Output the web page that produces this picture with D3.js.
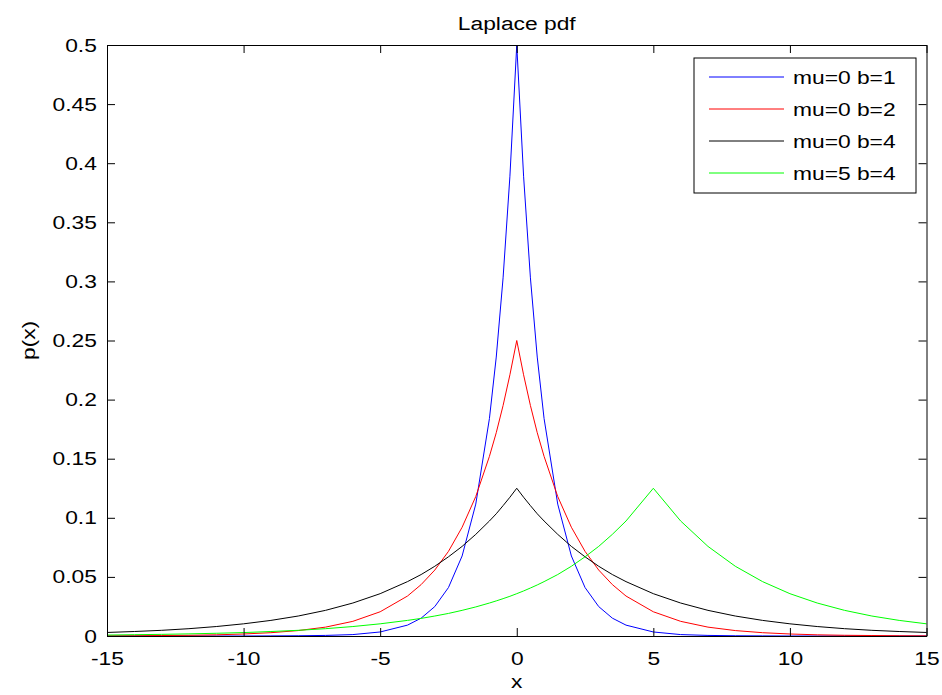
<!DOCTYPE html>
<html>
<head>
<meta charset="utf-8">
<script src="https://cdn.jsdelivr.net/npm/d3@7"></script>
<style>
  body { margin: 0; background: #fff; }
  text { font-family: "Liberation Sans", Arial, sans-serif; fill: #000; }
</style>
</head>
<body>
<div id="chart"></div>
<script>
var width = 942,
    height = 695;

// sample x positions (denser near the peaks)
const xs = [-15,-14,-13,-12,-11,-10,-9,-8,-7,-6,-5,-4,-3.5,-3,-2.5,-2,-1.5,-1,-0.75,-0.5,-0.25,
            0,0.25,0.5,0.75,1,1.5,2,2.5,3,3.5,4,5,6,7,8,9,10,11,12,13,14,15];

// mu=0 b=1
const blue = [0.0000,0.0000,0.0000,0.0000,0.0000,0.0000,0.0001,0.0002,0.0005,0.0012,0.0034,0.0092,0.0151,0.0249,0.041,0.0677,0.1116,0.184,0.236,0.303,0.389,
              0.5,0.389,0.303,0.236,0.184,0.1116,0.0677,0.041,0.0249,0.0151,0.0092,0.0034,0.0012,0.0005,0.0002,0.0001,0.0000,0.0000,0.0000,0.0000,0.0000,0.0000];
// mu=0 b=2
const red = [0.0001,0.0002,0.0004,0.0006,0.001,0.0017,0.0028,0.0046,0.0075,0.0124,0.0205,0.0338,0.0435,0.0558,0.0716,0.092,0.118,0.152,0.172,0.195,0.221,
             0.25,0.221,0.195,0.172,0.152,0.118,0.092,0.0716,0.0558,0.0435,0.0338,0.0205,0.0124,0.0075,0.0046,0.0028,0.0017,0.001,0.0006,0.0004,0.0002,0.0001];
// mu=0 b=4
const black = [0.003,0.0038,0.0048,0.0062,0.008,0.0103,0.0132,0.0169,0.0217,0.0279,0.0358,0.046,0.052,0.059,0.067,0.0758,0.086,0.0973,0.1034,0.1103,0.1174,
               0.125,0.1174,0.1103,0.1034,0.0973,0.086,0.0758,0.067,0.059,0.052,0.046,0.0358,0.0279,0.0217,0.0169,0.0132,0.0103,0.008,0.0062,0.0048,0.0038,0.003];
// mu=5 b=4
const green = [0.0008,0.0011,0.0014,0.0018,0.0023,0.0029,0.0038,0.0048,0.0062,0.008,0.0103,0.0132,0.0149,0.0169,0.0191,0.0217,0.0246,0.0279,0.0297,0.0316,0.0336,
               0.0358,0.0381,0.0406,0.0432,0.046,0.052,0.059,0.067,0.0758,0.086,0.0973,0.125,0.0973,0.0758,0.059,0.046,0.0358,0.0279,0.0217,0.0169,0.0132,0.0103];

const seriesNames = ['mu=0 b=1', 'mu=0 b=2', 'mu=0 b=4', 'mu=5 b=4'];
const seriesColors = ['#0000ff', '#ff0000', '#000000', '#00ff00'];
const xTicks = [-15, -10, -5, 0, 5, 10, 15];
const yTicks = [0, 0.05, 0.1, 0.15, 0.2, 0.25, 0.3, 0.35, 0.4, 0.45, 0.5];

// plot box (window.top is reserved, so no "top" here)
var pLeft = 107, pRight = 926.5, pTop = 45, pBottom = 636;
var stretch = 1.2;   // the figure text is a bit wide

var svg = d3.select('#chart')
      .append('svg')
      .attr('width', width)
      .attr('height', height);

var x = d3.scaleLinear().domain([-15, 15]).range([pLeft, pRight]);
var y = d3.scaleLinear().domain([0, 0.5]).range([pBottom, pTop]);

// curves
var line = d3.line()
    .x((d, i) => x(xs[i]))
    .y(d => y(d));

[blue, red, black, green].forEach((s, k) => {
  svg.append('path')
      .datum(s)
      .attr('d', line)
      .attr('fill', 'none')
      .attr('stroke', seriesColors[k])
      .attr('stroke-width', 1);
});

// axes, ticks pointing inward like matlab
var fmt = d => String(+d.toFixed(2));

svg.append('g')
    .attr('transform', 'translate(0,' + pBottom + ')')
    .call(d3.axisBottom(x).tickValues(xTicks).tickFormat(fmt)
          .tickSizeInner(-8).tickSizeOuter(0).tickPadding(15.5));
svg.append('g')
    .attr('transform', 'translate(' + pLeft + ',0)')
    .call(d3.axisLeft(y).tickValues(yTicks).tickFormat(fmt)
          .tickSizeInner(-8).tickSizeOuter(0).tickPadding(8.5));
svg.append('g')
    .attr('transform', 'translate(0,' + pTop + ')')
    .call(d3.axisTop(x).tickValues(xTicks).tickFormat('')
          .tickSizeInner(-8).tickSizeOuter(0));
svg.append('g')
    .attr('transform', 'translate(' + pRight + ',0)')
    .call(d3.axisRight(y).tickValues(yTicks).tickFormat('')
          .tickSizeInner(-8).tickSizeOuter(0));

svg.selectAll('.domain').attr('stroke', '#000').attr('stroke-width', 1);
svg.selectAll('.tick line').attr('stroke', '#000').attr('stroke-width', 1);
svg.selectAll('.tick text')
    .attr('font-family', '"Liberation Sans", Arial, sans-serif')
    .attr('font-size', 19)
    .attr('fill', '#000')
    .attr('transform', 'scale(' + stretch + ',1)');

// titles
function label(txt, tx, ty, rot) {
  svg.append('text')
      .attr('transform', 'translate(' + tx + ',' + ty + ') rotate(' + (rot || 0) + ') scale(' + stretch + ',1)')
      .attr('text-anchor', 'middle')
      .attr('font-size', 19)
      .text(txt);
}
label('Laplace pdf', (pLeft + pRight) / 2, 30);
label('x', (pLeft + pRight) / 2, 688);
label('p(x)', 35, (pTop + pBottom) / 2, -90);

// legend
var lg = svg.append('g').attr('transform', 'translate(694,58)');
lg.append('rect')
    .attr('width', 222).attr('height', 135)
    .attr('fill', '#fff').attr('stroke', '#000').attr('stroke-width', 1);
seriesNames.forEach((n, i) => {
  var ly = 19 + i * 32;
  lg.append('line')
      .attr('x1', 15).attr('x2', 90)
      .attr('y1', ly).attr('y2', ly)
      .attr('stroke', seriesColors[i]).attr('stroke-width', 1);
  lg.append('text')
      .attr('transform', 'translate(99,' + (ly + 7) + ') scale(' + stretch + ',1)')
      .attr('font-size', 19)
      .text(n);
});
</script>
</body>
</html>
